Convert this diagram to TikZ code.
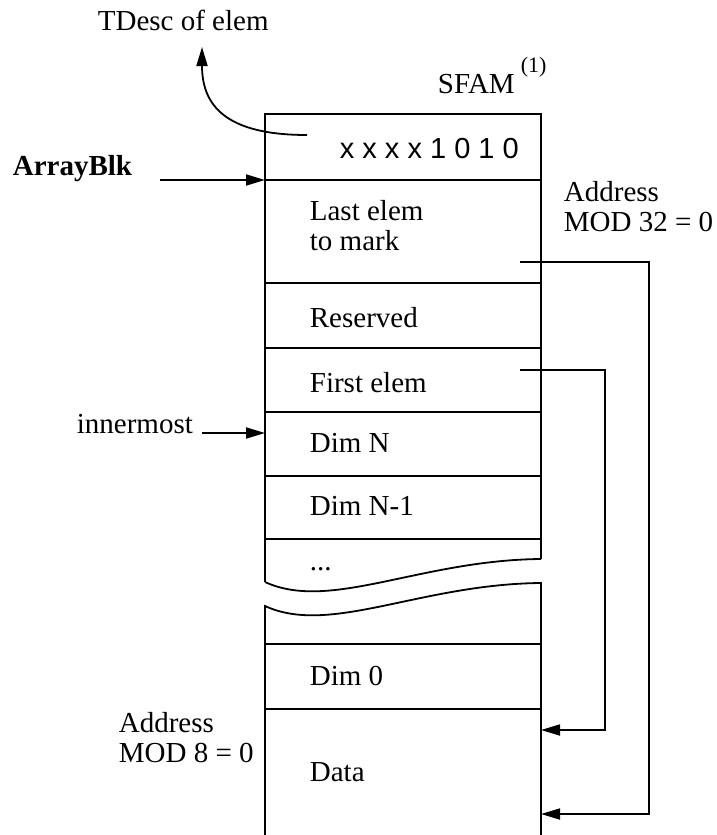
\documentclass[tikz,border=0pt]{standalone}
\usepackage{fontspec}
\setmainfont{Liberation Serif}
\newfontfamily\hsans{Liberation Sans}
\usetikzlibrary{arrows.meta}
\begin{document}
\begin{tikzpicture}[x=1pt,y=-1pt,line width=1.8pt,
  txt/.style={anchor=base west,inner sep=0pt,font=\fontsize{29}{29.5}\selectfont,align=left},
  arr/.style={-{Triangle[length=19pt,width=11pt]}},
  sep/.style={line width=2pt}]
\useasboundingbox (0,0) rectangle (717,835);
% box outline, upper part
\draw (265,582) -- (265,114) -- (541,114) -- (541,559);
\draw (265,582) .. controls (330,612) and (420,560) .. (541,559);
% lower part
\draw (541,835) -- (541,583) .. controls (420,584) and (330,636) .. (265,606) -- (265,835);
% separators
\foreach \yy in {180,283,348,412,476,539,644,709}{
  \draw[sep] (265,\yy) -- (541,\yy);
}
% texts in box
\node[txt,font=\hsans\fontsize{29}{30}\selectfont] (bits) at (339,158) {x x x x 1 0 1 0};
\node[txt] (last) at (309,250) {Last elem\\to mark};
\node[txt] (res) at (309,327) {Reserved};
\node[txt] (first) at (309,392) {First elem};
\node[txt] (dimn) at (309,452) {Dim N};
\node[txt] (dimn1) at (309,515) {Dim N-1};
\node[txt] (dots) at (309,570) {...};
\node[txt] (dim0) at (309,685) {Dim 0};
\node[txt] (data) at (309,781) {Data};
% outside labels
\node[txt] (tdesc) at (97,30) {TDesc of elem};
\node[txt] (sfam) at (437,93) {SFAM};
\node[txt,font=\fontsize{22}{24}\selectfont] (sup) at (520,72) {(1)};
\node[txt,font=\bfseries\fontsize{29}{29.5}\selectfont] (ablk) at (12,175) {ArrayBlk};
\node[txt] (inner) at (76,433) {innermost};
\node[txt] (addr32) at (563,231) {Address\\MOD 32 = 0};
\node[txt] (addr8) at (118,762) {Address\\MOD 8 = 0};
% coordinates
\coordinate (tstart) at (307,135);
\coordinate (tend) at (202,47);
\coordinate (abs) at (160,180);
\coordinate (abe) at (265,180);
\coordinate (ins) at (202,433);
\coordinate (ine) at (265,433);
\coordinate (les) at (520,262);
\coordinate (fes) at (520,370);
\coordinate (d1) at (541,730);
\coordinate (d2) at (541,814);
% connectors
\draw[arr] (tstart) .. controls (225,135) and (202,105) .. (tend);
\draw[arr] (abs) -- (abe);
\draw[arr] (ins) -- (ine);
\draw[arr] (les) -- ++(129,0) |- (d2);
\draw[arr] (fes) -- ++(85,0) |- (d1);
\end{tikzpicture}
\end{document}
